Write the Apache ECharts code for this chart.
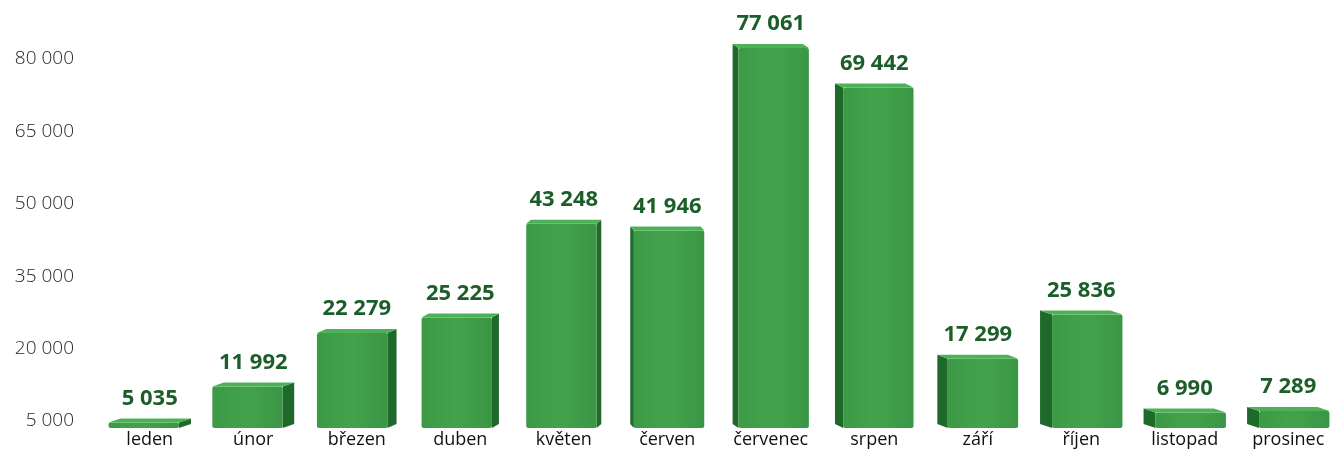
<!DOCTYPE html>
<html>
<head>
<meta charset="utf-8">
<script src="https://cdn.jsdelivr.net/npm/echarts@6/dist/echarts.min.js"></script>
<style>
html,body{margin:0;padding:0;background:#fff;}
#c{width:1340px;height:454px;}
</style>
</head>
<body>
<div id="c"></div>
<script>
const months = ['leden','únor','březen','duben','květen','červen','červenec','srpen','září','říjen','listopad','prosinec'];
const visitors = [5035, 11992, 22279, 25225, 43248, 41946, 77061, 69442, 17299, 25836, 6990, 7289];
const yTicks = [5000, 20000, 35000, 50000, 65000, 80000];

const fmt = v => String(v).replace(/\B(?=(\d{3})+(?!\d))/g, ' ');
const BAR_BASE = 4000;

const chart = echarts.init(document.getElementById('c'), null, {renderer: 'canvas'});

function renderItem(params, api) {
  const i = api.value(0), v = api.value(1);
  const top = api.coord([i, v]);
  const base = api.coord([i, BAR_BASE]);
  const band = api.size([1, 0])[0];
  const cx = top[0];
  const fw = band * 0.68;
  const side = Math.min(12, 3 + Math.abs(cx - 640) * 0.022);
  const lift = 4;
  const rightSide = i < 5;
  let x0, x1, sidePts, topPts;
  const ty = top[1], by = base[1];
  if (rightSide) {
    x0 = cx - (fw + side) / 2; x1 = x0 + fw;
    sidePts = [[x1, ty], [x1 + side, ty - lift], [x1 + side, by - lift], [x1, by]];
    topPts = [[x0, ty], [x1, ty], [x1 + side, ty - lift], [x0 + side, ty - lift]];
  } else {
    x0 = cx - (fw + side) / 2 + side; x1 = x0 + fw;
    sidePts = [[x0, ty], [x0 - side, ty - lift], [x0 - side, by - lift], [x0, by]];
    topPts = [[x0, ty], [x1, ty], [x1 - side, ty - lift], [x0 - side, ty - lift]];
  }
  return {
    type: 'group',
    children: [
      {type: 'polygon', shape: {points: sidePts}, style: {fill: '#1f6a2b'}},
      {type: 'rect', shape: {x: x0, y: ty, width: fw, height: by - ty, r: 2},
       style: {fill: new echarts.graphic.LinearGradient(0, 0, 1, 0, [
         {offset: 0, color: '#3c9a46'}, {offset: 0.5, color: '#43a34c'}, {offset: 1, color: '#3a9644'}
       ])}},
      {type: 'polygon', shape: {points: topPts}, style: {fill: '#4db257'}},
      {type: 'text', style: {
        text: fmt(v), x: cx, y: ty - lift - 9, align: 'center', verticalAlign: 'bottom',
        fill: '#1b5e2a', font: 'bold 22px "Open Sans", sans-serif'
      }}
    ]
  };
}

chart.setOption({
  backgroundColor: '#ffffff',
  animation: false,
  grid: [
    {left: 82, right: 1200, top: 59, bottom: 33},
    {left: 98, right: -6, top: 30, bottom: 26}
  ],
  xAxis: [
    {gridIndex: 0, type: 'value', show: false},
    {gridIndex: 1, type: 'category', data: months,
     axisLine: {show: false}, axisTick: {show: false},
     axisLabel: {color: '#111111', fontSize: 18, fontFamily: 'Open Sans', margin: 3, interval: 0}}
  ],
  yAxis: [
    {gridIndex: 0, type: 'value', min: yTicks[0], max: yTicks[yTicks.length - 1], interval: yTicks[1] - yTicks[0],
     axisLine: {show: false}, axisTick: {show: false}, splitLine: {show: false},
     axisLabel: {color: '#262626', fontSize: 19, fontFamily: 'Open Sans', fontWeight: 300, margin: 8,
       formatter: v => fmt(v)}},
    {gridIndex: 1, type: 'value', min: BAR_BASE, max: 80500, show: false, splitLine: {show: false}}
  ],
  series: [{
    type: 'custom',
    xAxisIndex: 1, yAxisIndex: 1,
    renderItem: renderItem,
    clip: false,
    data: visitors.map((v, i) => [i, v])
  }]
});
</script>
</body>
</html>
